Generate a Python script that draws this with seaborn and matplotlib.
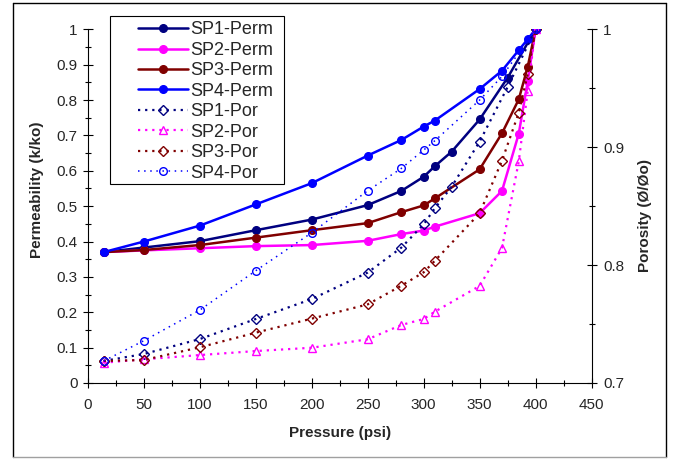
import matplotlib
matplotlib.use("Agg")
import matplotlib.pyplot as plt
from matplotlib.lines import Line2D
from matplotlib.patches import Rectangle
from matplotlib.ticker import MultipleLocator, FormatStrFormatter
import seaborn as sns

# ---- data -------------------------------------------------------------
p_sp1 = [14, 50, 100, 150, 200, 250, 280, 300, 310, 325, 350, 375, 400]
p_std = [14, 50, 100, 150, 200, 250, 280, 300, 310, 350, 370, 385, 393, 400]
p_sp4_por = [14, 50, 100, 150, 200, 250, 280, 300, 310, 350, 370, 400]

sp1_perm = [0.37, 0.383, 0.401, 0.432, 0.462, 0.503, 0.543, 0.583, 0.613, 0.654, 0.745, 0.863, 1.0]
sp2_perm = [0.37, 0.375, 0.381, 0.387, 0.39, 0.402, 0.421, 0.431, 0.442, 0.48, 0.543, 0.705, 0.853, 1.0]
sp3_perm = [0.37, 0.376, 0.39, 0.411, 0.432, 0.452, 0.483, 0.502, 0.522, 0.604, 0.706, 0.802, 0.894, 1.0]
sp4_perm = [0.37, 0.40, 0.445, 0.505, 0.565, 0.643, 0.687, 0.725, 0.742, 0.831, 0.883, 0.941, 0.972, 1.0]

sp1_por = [0.7187, 0.7246, 0.7373, 0.7543, 0.7712, 0.7937, 0.8148, 0.8346, 0.8482, 0.8665, 0.9047, 0.951, 1.0]
sp2_por = [0.7172, 0.7201, 0.7237, 0.7271, 0.7299, 0.7371, 0.7492, 0.7543, 0.7605, 0.7823, 0.8145, 0.888, 0.948, 1.0]
sp3_por = [0.7187, 0.7195, 0.7303, 0.7427, 0.7546, 0.7667, 0.7825, 0.7939, 0.8037, 0.8439, 0.8886, 0.9293, 0.962, 1.0]
sp4_por = [0.7187, 0.7359, 0.7619, 0.7953, 0.8275, 0.8631, 0.882, 0.8976, 0.9055, 0.940, 0.960, 1.0]

x_ticks = [0, 50, 100, 150, 200, 250, 300, 350, 400, 450]

NAVY, MAGENTA, DARKRED, BLUE = "#000080", "#FF00FF", "#800000", "#0000FF"

# ---- style ------------------------------------------------------------
sns.set_theme(style="white")
plt.rcParams["font.family"] = ["Liberation Sans", "DejaVu Sans"]
plt.rcParams["axes.linewidth"] = 0.8

W, H = 679, 459
fig = plt.figure(figsize=(W / 100, H / 100), dpi=100)
fig.patch.set_facecolor("white")

def fx(px):
    return px / W

def fy(py):
    return 1 - py / H

left, right, top, bottom = 88, 591.5, 29.3, 383
ax = fig.add_axes([fx(left), fy(bottom), fx(right) - fx(left), fy(top) - fy(bottom)])
ax2 = ax.twinx()

# ---- permeability (left axis) ----------------------------------------
perm_series = [
    (p_sp1, sp1_perm, NAVY, "SP1-Perm"),
    (p_std, sp2_perm, MAGENTA, "SP2-Perm"),
    (p_std, sp3_perm, DARKRED, "SP3-Perm"),
    (p_std, sp4_perm, BLUE, "SP4-Perm"),
]
for xs, ys, c, lab in perm_series:
    sns.lineplot(x=xs, y=ys, ax=ax, color=c, linewidth=1.8, marker="o",
                 markersize=5.5, markeredgecolor=c, markerfacecolor=c,
                 markeredgewidth=1, estimator=None, errorbar=None,
                 sort=False, legend=False, label=lab)

# ---- porosity (right axis) -------------------------------------------
por_series = [
    (p_sp1, sp1_por, NAVY, "D", 5, 1.6, (0, (1, 2.2)), "SP1-Por"),
    (p_std, sp2_por, MAGENTA, "^", 6, 1.6, (0, (1, 2.2)), "SP2-Por"),
    (p_std, sp3_por, DARKRED, "D", 5, 1.6, (0, (1, 2.2)), "SP3-Por"),
    (p_sp4_por, sp4_por, BLUE, "o", 5.5, 1.1, (0, (1, 3)), "SP4-Por"),
]
for xs, ys, c, m, ms, lw, ls, lab in por_series:
    sns.lineplot(x=xs, y=ys, ax=ax2, color=c, linewidth=lw, linestyle=ls,
                 marker=m, markersize=ms, markeredgecolor=c,
                 markerfacecolor="none", markeredgewidth=1.0,
                 estimator=None, errorbar=None, sort=False, legend=False,
                 label=lab)

# ---- axes -------------------------------------------------------------
ax.set_xlim(0, 450)
ax.set_ylim(0, 1)
ax2.set_ylim(0.7, 1.0)

ax.set_xticks(x_ticks)
ax.xaxis.set_minor_locator(MultipleLocator(25))
ax.yaxis.set_major_locator(MultipleLocator(0.1))
ax.yaxis.set_minor_locator(MultipleLocator(0.05))
ax2.yaxis.set_major_locator(MultipleLocator(0.1))
ax2.yaxis.set_minor_locator(MultipleLocator(0.05))
ax.xaxis.set_major_formatter(FormatStrFormatter("%g"))
ax.yaxis.set_major_formatter(FormatStrFormatter("%g"))
ax2.yaxis.set_major_formatter(FormatStrFormatter("%g"))

for a in (ax, ax2):
    a.spines["top"].set_visible(False)
    for s in a.spines.values():
        s.set_color("black")
        s.set_linewidth(0.8)
ax.spines["right"].set_visible(False)
ax2.spines["left"].set_visible(False)
ax2.spines["bottom"].set_visible(False)

TICK_FS = 11
ax.tick_params(axis="x", which="major", direction="inout", length=7, width=0.8,
               color="black", labelsize=TICK_FS, pad=7, bottom=True, top=False)
ax.tick_params(axis="x", which="minor", direction="inout", length=5, width=0.8,
               color="black", bottom=True, top=False)
ax.tick_params(axis="y", which="major", direction="inout", length=7, width=0.8,
               color="black", labelsize=TICK_FS, pad=4, left=True, right=False)
ax.tick_params(axis="y", which="minor", direction="inout", length=5, width=0.8,
               color="black", left=True, right=False)
ax2.tick_params(axis="y", which="major", direction="inout", length=7, width=0.8,
                color="black", labelsize=TICK_FS, pad=5, right=True, left=False)
ax2.tick_params(axis="y", which="minor", direction="inout", length=5, width=0.8,
                color="black", right=True, left=False)

LAB_FS = 11
ax.set_xlabel("Pressure (psi)", fontsize=LAB_FS, fontweight="bold", va="center")
ax.xaxis.set_label_coords(0.5, (bottom - 433) / (bottom - top))
ax.set_ylabel("Permeability (k/ko)", fontsize=LAB_FS, fontweight="bold", va="center")
ax.yaxis.set_label_coords((37 - left) / (right - left), (bottom - 190) / (bottom - top))
ax2.set_ylabel("Porosity (Ø/Øo)", fontsize=LAB_FS, fontweight="bold", va="center")
ax2.yaxis.set_label_coords((645 - left) / (right - left), (bottom - 215) / (bottom - top))

for a in (ax, ax2):
    if a.get_legend() is not None:
        a.get_legend().remove()

# ---- legend -----------------------------------------------------------
fig.patches.append(Rectangle((fx(110), fy(184)), fx(284) - fx(110), fy(16) - fy(184),
                             transform=fig.transFigure, facecolor="white",
                             edgecolor="black", linewidth=0.8, zorder=5))
handles = ax.get_lines()[:4] + ax2.get_lines()[:4]
labels = [h.get_label() for h in handles]
leg = fig.legend(handles, labels, loc="upper left",
                 bbox_to_anchor=(fx(138), fy(21.5)), bbox_transform=fig.transFigure,
                 frameon=False, fontsize=13, handlelength=2.75, handletextpad=0.15,
                 labelspacing=0.19, borderpad=0, borderaxespad=0)
leg.set_zorder(6)

# ---- chart area border -------------------------------------------------
for (x0, y0, x1, y1, c) in [(13, 3, 666, 3, "black"), (13, 3, 13, 457, "black"),
                            (666, 3, 666, 457, "black"), (13, 457, 666, 457, "#a0a0a0")]:
    fig.lines.append(Line2D([fx(x0), fx(x1)], [fy(y0), fy(y1)], transform=fig.transFigure,
                            color=c, linewidth=1.0, zorder=7))

fig.savefig("out.png", dpi=100, facecolor="white")
